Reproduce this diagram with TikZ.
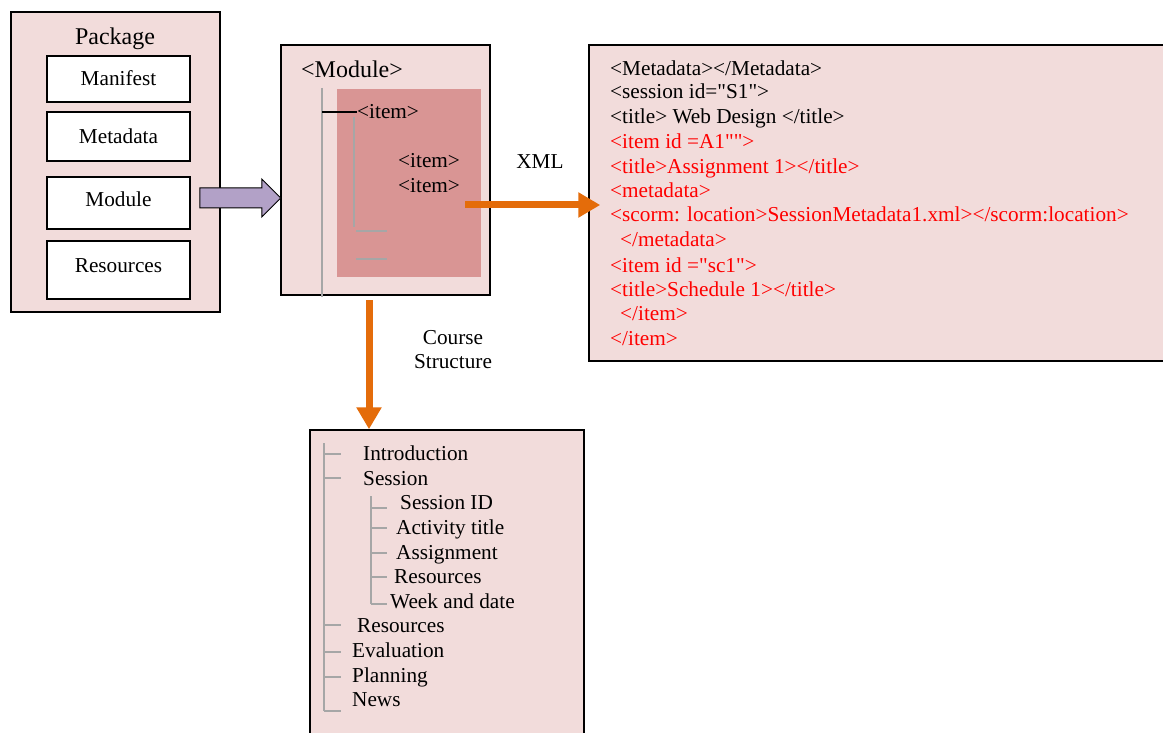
\documentclass[tikz,border=0pt]{standalone}
\usepackage{fontspec}
\setmainfont{Liberation Serif}[Ligatures=TeXOff]
\usetikzlibrary{arrows.meta,calc}
\definecolor{pinkbg}{RGB}{242,220,219}
\definecolor{redbox}{RGB}{217,149,148}
\definecolor{orng}{RGB}{228,108,10}
\definecolor{purp}{RGB}{178,161,199}
\definecolor{treegrey}{RGB}{166,166,166}
\definecolor{xmlred}{RGB}{255,0,0}
\begin{document}
\begin{tikzpicture}[x=1pt,y=-1pt,
  box/.style={draw=black, line width=1.5pt, fill=pinkbg, inner sep=0pt, rectangle},
  wbox/.style={draw=black, line width=1.5pt, fill=white, inner sep=0pt, rectangle},
  txt/.style={inner sep=0pt, text height=17pt, text depth=3pt, font=\fontsize{21.25}{24}\selectfont},
  big/.style={inner sep=0pt, text height=19pt, text depth=4pt, font=\fontsize{24}{28}\selectfont},
  rtxt/.style={txt, text=xmlred},
  tree/.style={draw=treegrey, line width=1.5pt},
  oarrow/.style={draw=orng, line width=7pt, -{Triangle[width=24pt,length=22pt]}},
  parrow/.style={draw=black, line width=1pt, fill=purp},
]
\clip (0,0) rectangle (1163,733);

% Package box
\node[box, minimum width=209pt, minimum height=300pt] (pkg) at (115.5,162) {};
\node[big] (pkgt) at (115,37) {Package};
\node[wbox, minimum width=143pt, minimum height=46pt] (manb) at (118.5,79) {};
\node[txt] (mant) at (118.5,79) {Manifest};
\node[wbox, minimum width=143pt, minimum height=49pt] (metb) at (118.5,136.5) {};
\node[txt] (mett) at (118.5,137) {Metadata};
\node[wbox, minimum width=143pt, minimum height=52pt] (modbtn) at (118.5,203) {};
\node[txt] (modt) at (118.5,200) {Module};
\node[wbox, minimum width=143pt, minimum height=58pt] (resb) at (118.5,270) {};
\node[txt] (rest) at (118.5,265) {Resources};

% Module box
\node[box, minimum width=209pt, minimum height=250pt] (modbox) at (385.5,170) {};
\node[fill=redbox, inner sep=0pt, minimum width=144pt, minimum height=188pt] (redr) at (409,183) {};
\node[big, anchor=west] (modlabel) at (301,70) {<Module>};
\node[txt, anchor=west] (item1) at (357,112) {<item>};
\node[txt, anchor=west] (item2) at (398,161) {<item>};
\node[txt, anchor=west] (item3) at (398,186) {<item>};
\coordinate (mv1a) at (322,88);
\coordinate (mv1b) at (322,297);
\draw[tree] (mv1a) -- (mv1b);
\draw[black, line width=1.5pt] (mv1a |- item1.west) -- (item1.west);
\coordinate (mv2a) at (354,117);
\coordinate (mv2b) at (354,227);
\draw[tree] (mv2a) -- (mv2b);
\coordinate (mh1a) at (356,231);
\coordinate (mh1b) at (387,231);
\coordinate (mh2a) at (356,259);
\coordinate (mh2b) at (387,259);
\draw[tree] (mh1a) -- (mh1b);
\draw[tree] (mh2a) -- (mh2b);

% purple arrow
\coordinate (pa) at ($(modbtn.east)+(9,-5)$);
\draw[parrow] (pa) ++(0,-10) -- ++(62,0) -- ++(0,-9) -- ++(19,19) -- ++(-19,19) -- ++(0,-9) -- ++(-62,0) -- cycle;

% XML box
\node[box, minimum width=587pt, minimum height=316pt] (xmlbox) at (882.5,203) {};
\node[txt, anchor=west] (x1) at (610,69) {<Metadata></Metadata>};
\node[txt, anchor=west] (x2) at (610,92) {<session id="S1">};
\node[txt, anchor=west] (x3) at (610,117) {<title> Web Design </title>};
\node[rtxt, anchor=west] (x4) at (610,142) {<item id =A1"">};
\node[rtxt, anchor=west] (x5) at (610,167) {<title>Assignment 1></title>};
\node[rtxt, anchor=west] (x6) at (610,191) {<metadata>};
\node[rtxt, anchor=west] (x7) at (610,215) {<scorm: location>SessionMetadata1.xml></scorm:location>};
\node[rtxt, anchor=west] (x8) at (620,240) {</metadata>};
\node[rtxt, anchor=west] (x9) at (610,265) {<item id ="sc1">};
\node[rtxt, anchor=west] (x10) at (610,289) {<title>Schedule 1></title>};
\node[rtxt, anchor=west] (x11) at (620,313) {</item>};
\node[rtxt, anchor=west] (x12) at (610,338) {</item>};

% XML arrow
\coordinate (xs) at (465,205);
\coordinate (xe) at ($(xmlbox.west |- xs)+(12,0)$);
\draw[oarrow] (xs) -- (xe);
\node[txt] (xmllabel) at (540,162) {XML};

% Course structure box
\node[box, minimum width=274pt, minimum height=315pt] (cbox) at (447,587.5) {};
\coordinate (cs) at (369,300);
\coordinate (ce) at (cs |- cbox.north);
\draw[oarrow] (cs) -- (ce);
\node[txt] (cl1) at (453,337) {Course};
\node[txt] (cl2) at (453,361) {Structure};

\node[txt, anchor=west] (c1) at (363,453) {Introduction};
\node[txt, anchor=west] (c2) at (363,478) {Session};
\node[txt, anchor=west] (c21) at (400,502) {Session ID};
\node[txt, anchor=west] (c22) at (396,527) {Activity title};
\node[txt, anchor=west] (c23) at (396,552) {Assignment};
\node[txt, anchor=west] (c24) at (394,576) {Resources};
\node[txt, anchor=west] (c25) at (390,601) {Week and date};
\node[txt, anchor=west] (c3) at (357,625) {Resources};
\node[txt, anchor=west] (c4) at (352,650) {Evaluation};
\node[txt, anchor=west] (c5) at (352,675) {Planning};
\node[txt, anchor=west] (c6) at (352,699) {News};

\coordinate (tv1) at (324,443);
\coordinate (tv2) at (324,711);
\draw[tree] (tv1) -- (tv2);
\foreach \yy in {454,478,625,652,677,711}{
  \draw[tree] (324,\yy) -- (341,\yy);
}
\coordinate (sv1) at (371,496);
\coordinate (sv2) at (371,604);
\draw[tree] (sv1) -- (sv2);
\foreach \yy in {508,528,553,577,604}{
  \draw[tree] (371,\yy) -- (387,\yy);
}
\end{tikzpicture}
\end{document}
